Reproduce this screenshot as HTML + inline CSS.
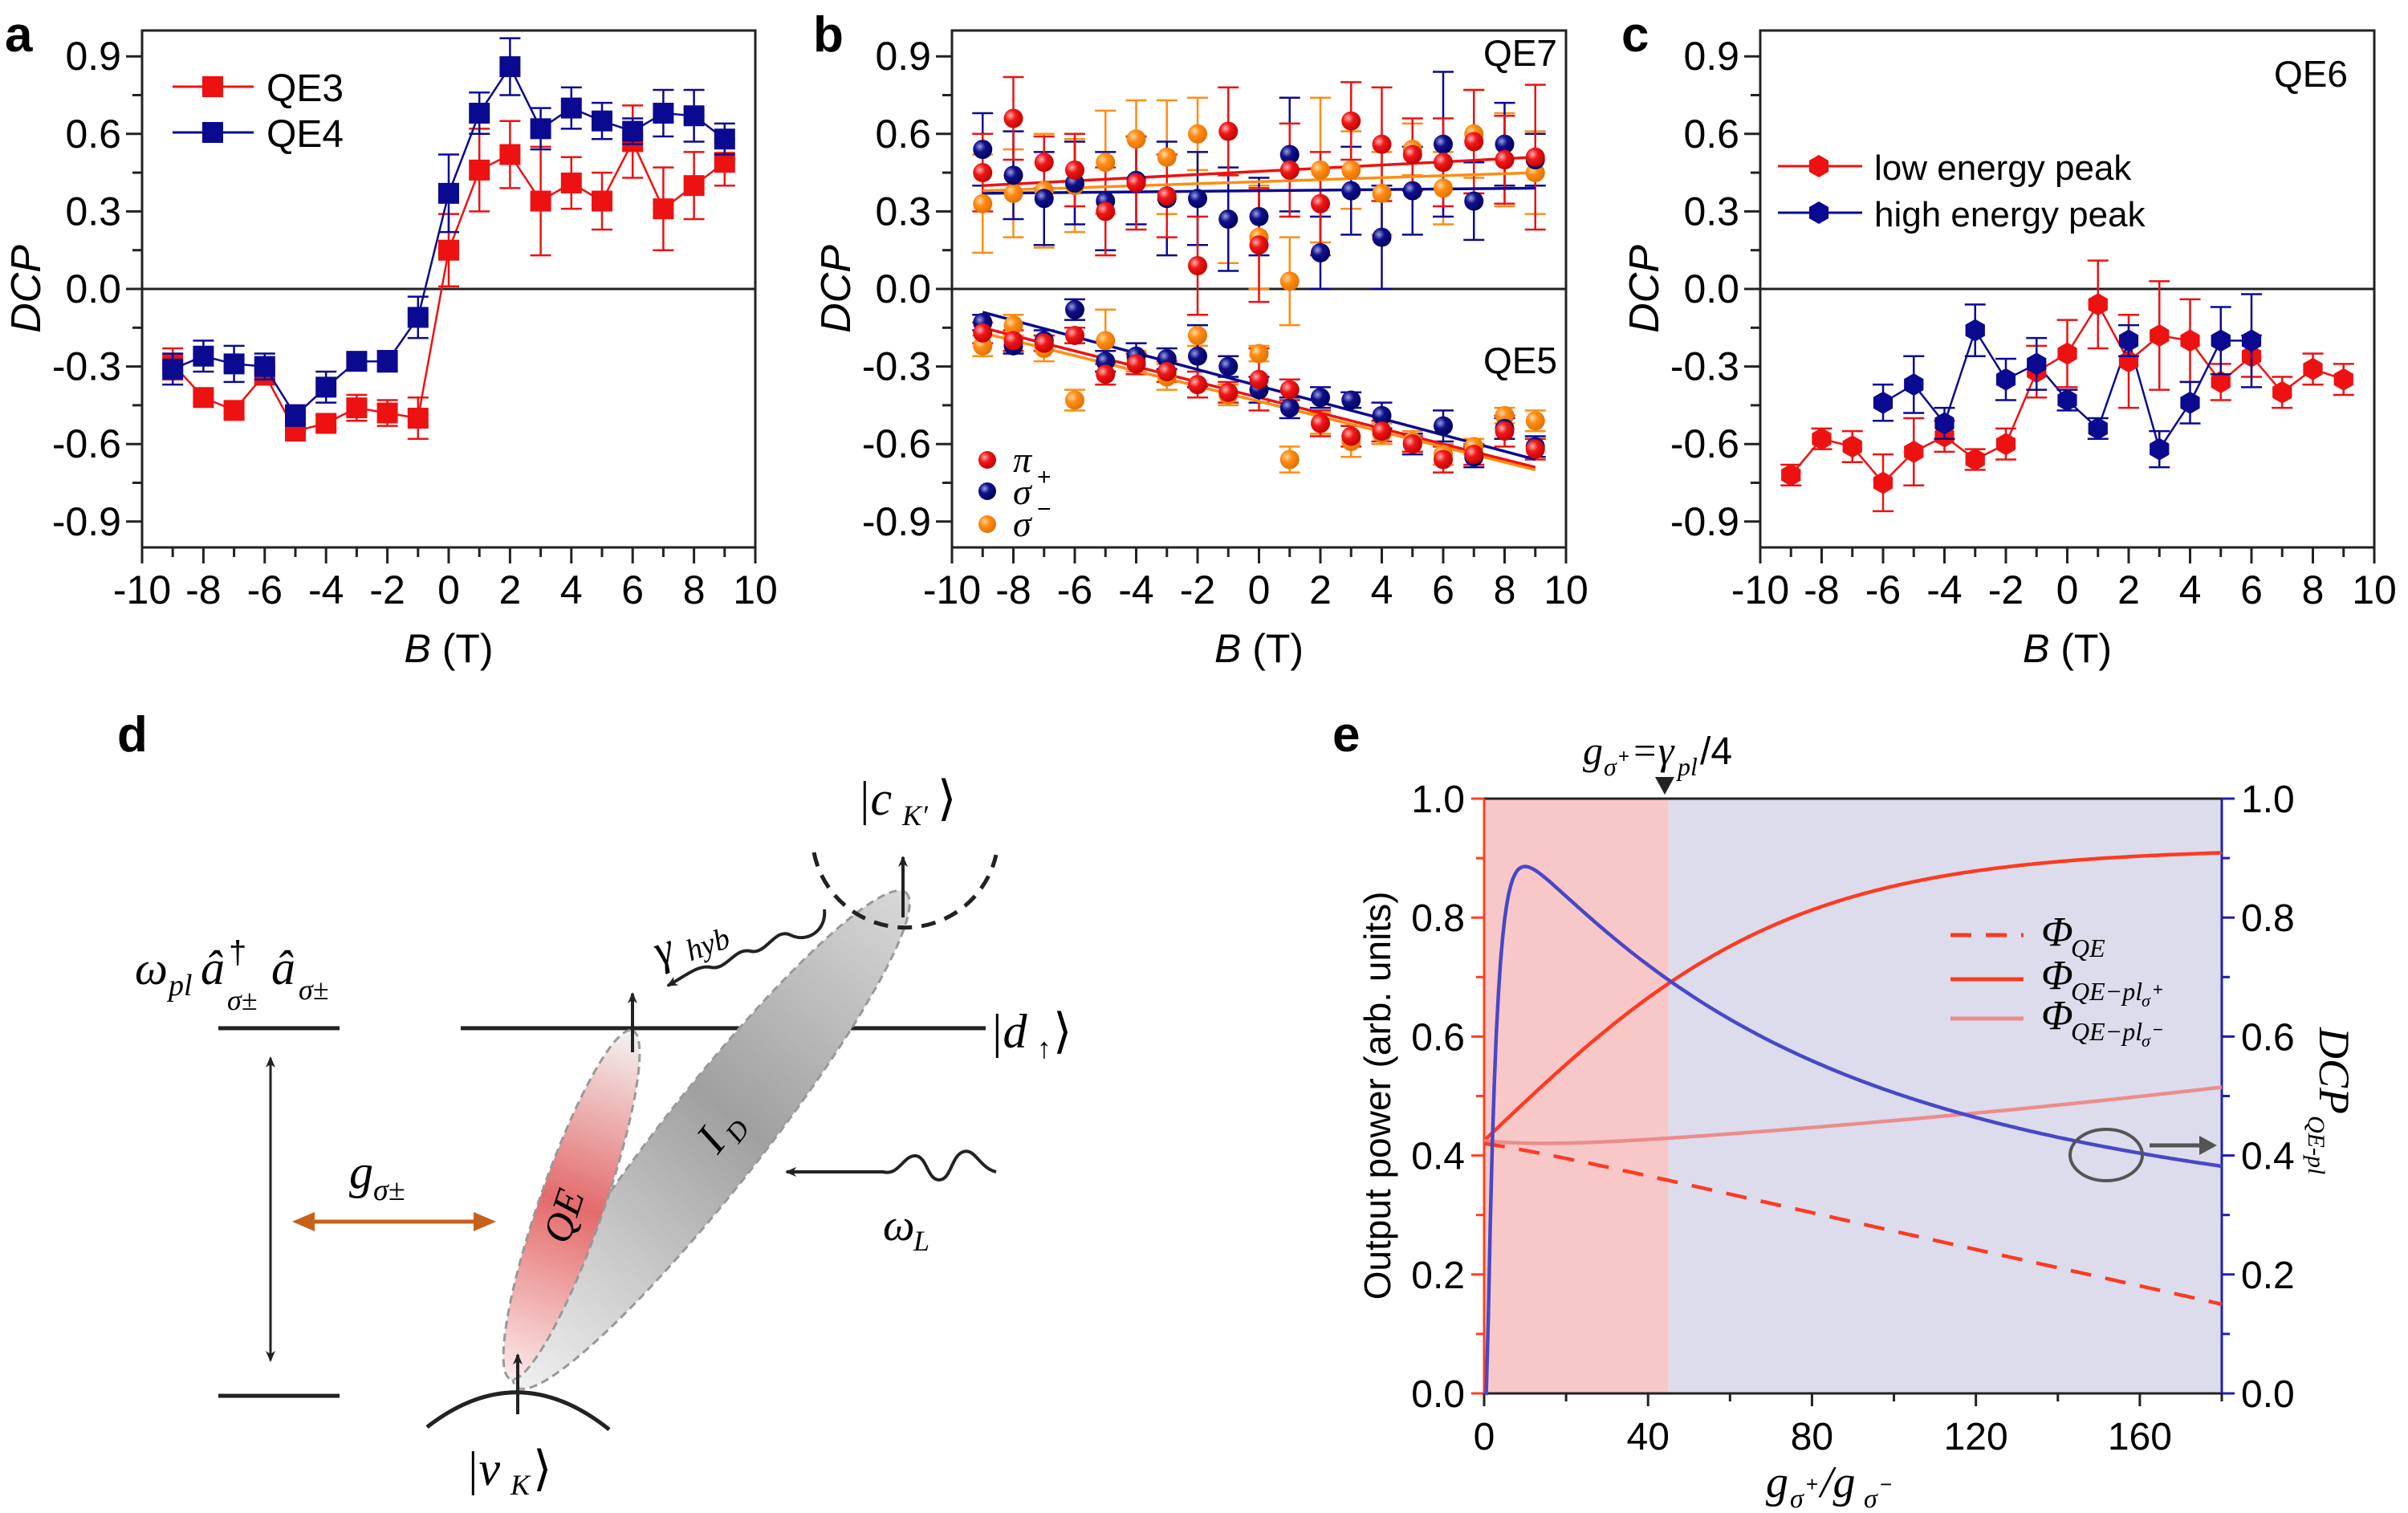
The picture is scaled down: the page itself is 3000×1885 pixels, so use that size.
<!DOCTYPE html>
<html><head><meta charset="utf-8"><style>
html,body{margin:0;padding:0;background:#fff}
svg{display:block}
text{font-family:"Liberation Sans",sans-serif}
.ser{font-family:"Liberation Serif","DejaVu Serif",serif;font-style:italic}
</style></head><body>
<svg id="s" width="3000" height="1885" viewBox="0 0 3000 1885" xmlns="http://www.w3.org/2000/svg">
<defs>
<radialGradient id="gr" cx="0.35" cy="0.35" r="0.7"><stop offset="0" stop-color="#ffb0b0"/><stop offset="0.4" stop-color="#f01818"/><stop offset="1" stop-color="#c00000"/></radialGradient>
<radialGradient id="gb" cx="0.35" cy="0.35" r="0.7"><stop offset="0" stop-color="#9aa0e0"/><stop offset="0.4" stop-color="#10108a"/><stop offset="1" stop-color="#000060"/></radialGradient>
<radialGradient id="go" cx="0.35" cy="0.35" r="0.7"><stop offset="0" stop-color="#ffd9a0"/><stop offset="0.4" stop-color="#ff8c14"/><stop offset="1" stop-color="#e07000"/></radialGradient>
<linearGradient id="idg" x1="0" y1="0" x2="1" y2="0"><stop offset="0" stop-color="#f0f0f0"/><stop offset="0.55" stop-color="#a0a0a0"/><stop offset="1" stop-color="#d8d8d8"/></linearGradient>
<linearGradient id="qeg" x1="0" y1="0" x2="1" y2="0"><stop offset="0" stop-color="#fbeaea"/><stop offset="0.5" stop-color="#e46a6a"/><stop offset="1" stop-color="#f4f4f4"/></linearGradient>
<marker id="ah" markerWidth="14" markerHeight="12" refX="12" refY="6" orient="auto" markerUnits="userSpaceOnUse"><path d="M0,0 L14,6 L0,12 L4,6 Z" fill="#222"/></marker>
</defs>
<g id="g"></g>
</svg>
<script>
(function(){
var NS="http://www.w3.org/2000/svg",G=document.getElementById('g');
function el(t,a,txt,par){var e=document.createElementNS(NS,t);for(var k in a)e.setAttribute(k,a[k]);if(txt!=null)e.textContent=txt;(par||G).appendChild(e);return e;}
function line(x1,y1,x2,y2,c,w,ex){var a={x1:x1,y1:y1,x2:x2,y2:y2,stroke:c,'stroke-width':w||3};for(var k in ex)a[k]=ex[k];return el('line',a);}
function txt(x,y,s,fs,ex){var a={x:x,y:y,'font-size':fs};for(var k in ex)a[k]=ex[k];return el('text',a,s);}

function dcpPanel(L,R,lab,labx){
  var T=38,B=682,Z=360;
  var X=function(b){return L+(b+10)*(R-L)/20;},Y=function(d){return Z-d*322;};
  el('rect',{x:L,y:T,width:R-L,height:B-T,fill:'none',stroke:'#222','stroke-width':3});
  line(L,Z,R,Z,'#222',3);
  for(var b=-10;b<=10;b++){var maj=b%2==0;line(X(b),B,X(b),B+(maj?20:12),'#222',3);
    if(maj)txt(X(b),B+70,String(b),50,{'text-anchor':'middle'});}
  for(var i=-9;i<=9;i+=1.5){var d=i/10;var mj=Math.abs(i%3)<0.01;line(L,Y(d),L-(mj?20:12),Y(d),'#222',3);
    if(mj)txt(L-26,Y(d)+17,(d==0?'0.0':d.toFixed(1)),50,{'text-anchor':'end'});}
  var t=el('text',{x:(L+R)/2,y:825,'font-size':50,'text-anchor':'middle'});
  el('tspan',{'font-style':'italic'},'B',t);el('tspan',{},' (T)',t);
  txt(0,0,'DCP',52,{'font-style':'italic',transform:'translate('+(L-127)+','+Z+') rotate(-90)','text-anchor':'middle'});
  txt(labx,64,lab,62,{'font-weight':'bold'});
  return {X:X,Y:Y};
}
function eb(x,y1,y2,c){line(x,y1,x,y2,c,2.5);line(x-13,y1,x+13,y1,c,2.5);line(x-13,y2,x+13,y2,c,2.5);}
function poly(pts,c,w,ex){var a={points:pts.map(function(p){return p[0].toFixed(1)+','+p[1].toFixed(1)}).join(' '),fill:'none',stroke:c,'stroke-width':w||3};for(var k in ex)a[k]=ex[k];return el('polyline',a);}

// Panel a
var A=dcpPanel(177,941,'a',6);
var Bs=[];for(var b=-9;b<=9;b++)Bs.push(b);
var q3=[-.29,-.42,-.47,-.33,-.55,-.52,-.46,-.48,-.50,.15,.46,.52,.34,.41,.34,.57,.31,.40,.49];
var e3=[.06,.02,.03,.04,.03,.03,.05,.05,.08,.14,.16,.13,.21,.1,.11,.14,.16,.13,.09];
var q4=[-.31,-.26,-.29,-.30,-.49,-.38,-.28,-.28,-.11,.37,.68,.86,.62,.70,.65,.61,.68,.67,.58];
var e4=[.06,.06,.07,.05,.04,.06,.03,.04,.08,.15,.08,.11,.08,.08,.07,.05,.09,.1,.06];
[[q3,e3,'#ee1111'],[q4,e4,'#0a0a90']].forEach(function(s){
  poly(Bs.map(function(b,i){return [A.X(b),A.Y(s[0][i])]}),s[2],2.5);
  Bs.forEach(function(b,i){eb(A.X(b),A.Y(s[0][i]+s[1][i]),A.Y(s[0][i]-s[1][i]),s[2]);
    el('rect',{x:A.X(b)-13,y:A.Y(s[0][i])-13,width:26,height:26,fill:s[2]});});
});
line(215,108,316,108,'#ee1111',3);el('rect',{x:252,y:95,width:26,height:26,fill:'#ee1111'});txt(332,126,'QE3',48);
line(215,165,316,165,'#0a0a90',3);el('rect',{x:252,y:152,width:26,height:26,fill:'#0a0a90'});txt(332,183,'QE4',48);

// Panel b
var P=dcpPanel(1186,1951,'b',1013);
var tp={r:[.45,.66,.49,.46,.30,.41,.36,.09,.61,.17,.46,.33,.65,.56,.52,.49,.57,.50,.51],
 b:[.54,.44,.35,.41,.34,.42,.35,.35,.27,.28,.52,.14,.38,.20,.38,.56,.34,.56,.50],
 o:[.33,.37,.38,.40,.49,.58,.51,.60,.27,.20,.03,.46,.46,.37,.54,.39,.60,.50,.45]};
var bt={r:[-.17,-.20,-.21,-.18,-.33,-.29,-.32,-.37,-.40,-.35,-.39,-.52,-.57,-.55,-.60,-.66,-.64,-.55,-.62],
 b:[-.13,-.22,-.20,-.08,-.28,-.26,-.27,-.26,-.30,-.39,-.46,-.42,-.43,-.49,-.60,-.53,-.65,-.54,-.61],
 o:[-.22,-.14,-.23,-.43,-.20,-.28,-.34,-.18,-.41,-.25,-.66,-.52,-.59,-.56,-.59,-.64,-.61,-.49,-.51]};
var et=[.15,.16,.1,.14,.17,.18,.16,.19,.17,.22,.18,.2,.15,.22,.14,.17,.2,.17,.28];
var eb2=[.04,.04,.03,.03,.04,.04,.04,.05,.04,.12,.04,.05,.04,.04,.03,.05,.04,.06,.04];
var col={r:'#ee1111',b:'#0a0a90',o:'#ff8c14'},grd={r:'url(#gr)',b:'url(#gb)',o:'url(#go)'};
['o','b','r'].forEach(function(k){Bs.forEach(function(b,i){
  var e=et[(i+(k=='b'?3:k=='o'?7:0))%19];eb(P.X(b),P.Y(tp[k][i]+e),P.Y(tp[k][i]-e),col[k]);
  var e2=eb2[(i+(k=='b'?2:k=='o'?5:0))%19];eb(P.X(b),P.Y(bt[k][i]+e2),P.Y(bt[k][i]-e2),col[k]);});});
line(P.X(-9),P.Y(.37),P.X(9),P.Y(.39),'#0a0a90',3.5);
line(P.X(-9),P.Y(.38),P.X(9),P.Y(.45),'#ff8c14',3.5);
line(P.X(-9),P.Y(.40),P.X(9),P.Y(.51),'#ee1111',3.5);
line(P.X(-9),P.Y(-.09),P.X(9),P.Y(-.66),'#0a0a90',3.5);
line(P.X(-9),P.Y(-.15),P.X(9),P.Y(-.69),'#ee1111',3.5);
line(P.X(-9),P.Y(-.17),P.X(9),P.Y(-.70),'#ff8c14',3.5);
['o','b','r'].forEach(function(k){Bs.forEach(function(b,i){
  el('circle',{cx:P.X(b),cy:P.Y(tp[k][i]),r:12,fill:grd[k]});
  el('circle',{cx:P.X(b),cy:P.Y(bt[k][i]),r:12,fill:grd[k]});});});
txt(1940,82,'QE7',46,{'text-anchor':'end'});txt(1940,465,'QE5',46,{'text-anchor':'end'});
el('circle',{cx:1230,cy:573,r:11,fill:'url(#gr)'});txt(1262,588,'π',46,{'class':'ser'});
el('circle',{cx:1230,cy:612,r:11,fill:'url(#gb)'});txt(1262,628,'σ',46,{'class':'ser'});txt(1292,604,'+',30);
el('circle',{cx:1230,cy:653,r:11,fill:'url(#go)'});txt(1262,668,'σ',46,{'class':'ser'});txt(1292,644,'−',30);

// Panel c
var C=dcpPanel(2193,2958,'c',2020);
var lo=[-.72,-.58,-.61,-.75,-.63,-.57,-.66,-.60,-.32,-.25,-.06,-.28,-.18,-.20,-.36,-.26,-.40,-.31,-.35];
var loe=[.04,.04,.06,.11,.13,.06,.04,.06,.1,.13,.17,.18,.21,.16,.07,.08,.06,.06,.06];
var hb=[-6,-5,-4,-3,-2,-1,0,1,2,3,4,5,6];
var hi=[-.44,-.37,-.52,-.16,-.35,-.29,-.43,-.54,-.20,-.62,-.44,-.20,-.20];
var hie=[.07,.11,.06,.1,.08,.1,.04,.04,.06,.07,.08,.13,.18];
function hex(x,y,r,c){var p=[];for(var i=0;i<6;i++){var a=Math.PI/6+i*Math.PI/3;p.push((x+r*Math.cos(a)).toFixed(1)+','+(y+r*Math.sin(a)).toFixed(1));}el('polygon',{points:p.join(' '),fill:c});}
poly(Bs.map(function(b,i){return [C.X(b),C.Y(lo[i])]}),'#ee1111',2.5);
poly(hb.map(function(b,i){return [C.X(b),C.Y(hi[i])]}),'#0a0a90',2.5);
Bs.forEach(function(b,i){eb(C.X(b),C.Y(lo[i]+loe[i]),C.Y(lo[i]-loe[i]),'#ee1111');hex(C.X(b),C.Y(lo[i]),14,'#ee1111');});
hb.forEach(function(b,i){eb(C.X(b),C.Y(hi[i]+hie[i]),C.Y(hi[i]-hie[i]),'#0a0a90');hex(C.X(b),C.Y(hi[i]),14,'#0a0a90');});
txt(2925,108,'QE6',46,{'text-anchor':'end'});
line(2215,207,2320,207,'#ee1111',3);hex(2266,207,14,'#ee1111');txt(2335,224,'low energy peak',44);
line(2215,265,2320,265,'#0a0a90',3);hex(2266,265,14,'#0a0a90');txt(2335,282,'high energy peak',44);

// Panel d
txt(146,936,'d',62,{'font-weight':'bold'});
line(272,1281,423,1281,'#222',5);line(272,1739,423,1739,'#222',5);
line(574,1281,1228,1281,'#222',5);
el('ellipse',{cx:886,cy:1420,rx:392,ry:62,fill:'url(#idg)',stroke:'#999','stroke-width':3,'stroke-dasharray':'10,6',transform:'rotate(-51.8 886 1420)'});
el('ellipse',{cx:712,cy:1501,rx:230,ry:40,fill:'url(#qeg)',stroke:'#999','stroke-width':3,'stroke-dasharray':'10,6',transform:'rotate(-70.7 712 1501)'});
txt(0,0,'QE',50,{'class':'ser',transform:'translate(718,1520) rotate(-72)','text-anchor':'middle'});
txt(0,0,'I',56,{'class':'ser',transform:'translate(900,1432) rotate(-52)','text-anchor':'middle'});
txt(0,0,'D',34,{'class':'ser',transform:'translate(920,1426) rotate(-52)'});
el('path',{d:'M1014,1062 A116,116 0 0 0 1241,1065',fill:'none',stroke:'#222','stroke-width':5,'stroke-dasharray':'18,12'});
el('path',{d:'M532,1778 Q645,1690 759,1781',fill:'none',stroke:'#222','stroke-width':5});
line(337,1330,337,1695,'#222',3,{'marker-end':'url(#ah)'});line(337,1400,337,1318,'#222',3,{'marker-end':'url(#ah)'});
line(788,1311,788,1238,'#222',4,{'marker-end':'url(#ah)'});
line(1125,1143,1125,1068,'#222',4,{'marker-end':'url(#ah)'});
line(645,1762,645,1688,'#222',4,{'marker-end':'url(#ah)'});
line(370,1522,612,1522,'#c8601a',5);
el('path',{d:'M364,1522 L392,1510 L392,1534 Z',fill:'#c8601a'});el('path',{d:'M618,1522 L590,1510 L590,1534 Z',fill:'#c8601a'});
el('path',{d:'M1241,1460 C1220,1455 1215,1430 1200,1435 C1185,1440 1185,1470 1170,1470 C1155,1470 1155,1440 1140,1440 C1125,1440 1120,1465 1100,1460 L980,1460',fill:'none',stroke:'#222','stroke-width':4,'marker-end':'url(#ah)'});
el('path',{d:'M1027,1133 C1030,1160 1005,1175 985,1165 C965,1155 955,1190 935,1185 C915,1180 905,1210 885,1205 C870,1202 855,1215 832,1228',fill:'none',stroke:'#222','stroke-width':4,'marker-end':'url(#ah)'});
txt(1100,1545,'ω',56,{'class':'ser'});txt(1138,1558,'L',36,{'class':'ser'});
txt(810,1185,'γ',56,{'class':'ser',transform:'rotate(-20 870 1160)'});txt(848,1192,'hyb',38,{'class':'ser',transform:'rotate(-20 870 1160)'});
txt(168,1226,'ω',58,{'class':'ser'});txt(210,1240,'pl',38,{'class':'ser'});
txt(250,1226,'â',60,{'class':'ser'});txt(285,1200,'†',40);txt(283,1258,'σ±',36,{'class':'ser'});
txt(338,1226,'â',60,{'class':'ser'});txt(372,1245,'σ±',36,{'class':'ser'});
txt(435,1480,'g',60,{'class':'ser'});txt(465,1495,'σ±',38,{'class':'ser'});
txt(1068,1015,'|c',60,{'class':'ser'});txt(1124,1028,"K′",36,{'class':'ser'});txt(1168,1015,'⟩',60);
txt(1233,1305,'|d',60,{'class':'ser'});txt(1292,1318,'↑',36);txt(1312,1305,'⟩',60);
txt(580,1850,'|v',60,{'class':'ser'});txt(636,1862,'K',36,{'class':'ser'});txt(664,1850,'⟩',60);

// Panel e
var eL=1849,eR=2768,eT=995,eB=1736;
var EX=function(v){return eL+v*(eR-eL)/180},EY=function(v){return eB-v*(eB-eT)};
txt(1660,936,'e',62,{'font-weight':'bold'});
el('rect',{x:eL,y:eT,width:EX(45)-eL,height:eB-eT,fill:'#f8c8c8'});
el('rect',{x:EX(45),y:eT,width:eR-EX(45),height:eB-eT,fill:'#dcdcec'});
line(eL,eT,eR,eT,'#222',3);line(eL,eB,eR,eB,'#222',3);
line(eL,eT,eL,eB,'#ff4020',3);line(eR,eT,eR,eB,'#2020b0',3);
for(var i=0;i<=10;i++){var v=i/10,mj=i%2==0;line(eL,EY(v),eL-(mj?16:10),EY(v),'#ff4020',3);line(eR,EY(v),eR+(mj?16:10),EY(v),'#2020b0',3);
 if(mj){txt(eL-24,EY(v)+17,v.toFixed(1),48,{'text-anchor':'end'});txt(eR+24,EY(v)+17,v.toFixed(1),48);}}
for(var x=0;x<=180;x+=20){var mj2=x%40==0;line(EX(x),eB,EX(x),eB+(mj2?16:10),'#222',3);if(mj2)txt(EX(x),eB+70,String(x),48,{'text-anchor':'middle'});}
el('path',{d:'M2062,968 L2086,968 L2074,990 Z',fill:'#222'});
txt(1972,952,'g',50,{'class':'ser'});txt(1998,966,'σ',32,{'class':'ser'});txt(2016,950,'+',24);txt(2032,952,'=γ',50,{'class':'ser'});txt(2090,966,'pl',32,{'class':'ser'});txt(2118,952,'/4',48);
function curve(f,c,w,ex){var p=[];for(var x=0;x<=180;x+=0.5)p.push([EX(x),EY(f(x))]);poly(p,c,w,ex);}
curve(function(x){return 0.425+0.492*Math.tanh(x/75);},'#ff3a20',4.5);
curve(function(x){return 0.425+0.09*Math.pow(x/180,1.6)-0.007*(x/25)*Math.exp(1-x/25);},'#ec8c8c',4.5);
curve(function(x){return 0.42-0.27*Math.pow(x/180,1.15)-0.01*Math.sin(x/180*Math.PI);},'#ff3a20',4.5,{'stroke-dasharray':'26,18'});
curve(function(x){if(x<0.7)return 0;var d=0.2+0.75/(1+Math.pow(x/75,1.3));return d*(1-Math.exp(-(x-0.7)/2.2));},'#4848c8',4.5);
line(2430,1165,2521,1165,'#ff3a20',5,{'stroke-dasharray':'26,18'});line(2430,1220,2521,1220,'#ff3a20',5);line(2430,1269,2521,1269,'#ec8c8c',5);
txt(2543,1178,'Φ',52,{'class':'ser'});txt(2580,1192,'QE',32,{'class':'ser'});
txt(2543,1232,'Φ',52,{'class':'ser'});txt(2580,1246,'QE−pl',32,{'class':'ser'});txt(2668,1254,'σ',22,{'class':'ser'});txt(2682,1240,'+',22);
txt(2543,1282,'Φ',52,{'class':'ser'});txt(2580,1296,'QE−pl',32,{'class':'ser'});txt(2668,1304,'σ',22,{'class':'ser'});txt(2682,1290,'−',22);
el('ellipse',{cx:2624,cy:1439,rx:45,ry:32,fill:'none',stroke:'#555','stroke-width':4});
line(2678,1427,2748,1427,'#555',5);el('path',{d:'M2762,1427 L2740,1415 L2740,1439 Z',fill:'#555'});
txt(0,0,'Output power (arb. units)',46,{transform:'translate(1732,1365) rotate(-90)','text-anchor':'middle'});
txt(0,0,'DCP',54,{'class':'ser',transform:'translate(2890,1280) rotate(90)'});
txt(0,0,'QE-pl',30,{'class':'ser',transform:'translate(2876,1390) rotate(90)'});
txt(2200,1865,'g',56,{'class':'ser'});txt(2230,1878,'σ',34,{'class':'ser'});txt(2250,1858,'+',26);txt(2268,1865,'/g',56,{'class':'ser'});txt(2322,1878,'σ',34,{'class':'ser'});txt(2342,1858,'−',26);
})();
</script>
</body></html>
